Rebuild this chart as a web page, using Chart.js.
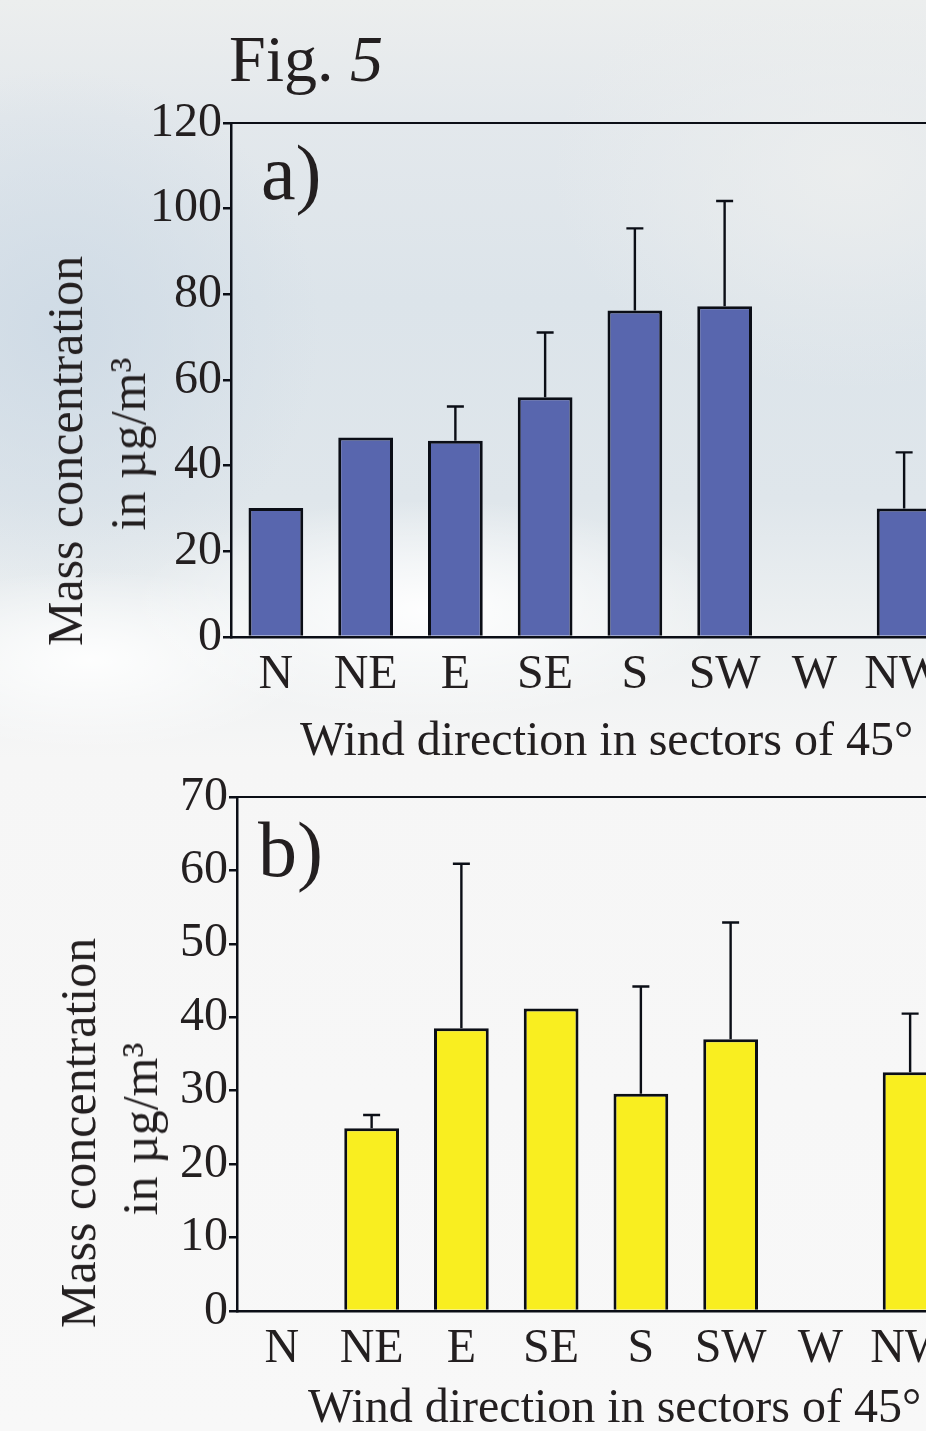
<!DOCTYPE html>
<html>
<head>
<meta charset="utf-8">
<script src="https://cdn.jsdelivr.net/npm/chart.js@4.4.1/dist/chart.umd.min.js"></script>
<style>
  html, body { margin: 0; padding: 0; }
  body {
    width: 926px; height: 1431px; overflow: hidden; position: relative;
    font-family: "Liberation Serif", "Times New Roman", serif; color: #231f20;
    background:
      radial-gradient(ellipse 300px 110px at 430px 610px, rgba(255,255,255,0.95), rgba(255,255,255,0) 100%),
      radial-gradient(ellipse 220px 90px at 90px 660px, rgba(255,255,255,0.9), rgba(255,255,255,0) 100%),
      radial-gradient(ellipse 260px 260px at 60px 330px, rgba(206,218,229,0.9), rgba(206,218,229,0) 100%),
      radial-gradient(ellipse 300px 220px at 850px 170px, rgba(236,238,238,0.9), rgba(236,238,238,0) 100%),
      linear-gradient(to bottom, #eceeee 0px, #e3e8ec 120px, #dce4ea 300px, #dfe6eb 500px, #eef1f2 640px, #f6f6f6 760px, #f8f8f8 1431px);
  }
  .txt { position: absolute; white-space: nowrap; line-height: 1; }
  .rot { position: absolute; white-space: nowrap; line-height: 1; font-size: 50px;
         transform: translate(-50%, -50%) rotate(-90deg); }
  .wrap { position: absolute; left: 0; }
</style>
</head>
<body>
<div class="txt" style="left:229px; top:26px; font-size:66px;">Fig. <i>5</i></div>

<div class="wrap" style="top:0px;"><canvas id="chartA" width="1000" height="720"></canvas></div>
<div class="wrap" style="top:700px;"><canvas id="chartB" width="1000" height="731"></canvas></div>

<div class="txt" style="left:261px; top:134px; font-size:78px;">a)</div>
<div class="txt" style="left:258px; top:811px; font-size:78px;">b)</div>

<div class="rot" style="left:65px; top:451px;">Mass concentration</div>
<div class="rot" style="left:128px; top:444px;">in µg/m³</div>
<div class="rot" style="left:78px; top:1133px;">Mass concentration</div>
<div class="rot" style="left:140px; top:1129px;">in µg/m³</div>

<div class="txt" style="left:300px; top:715px; font-size:48px;">Wind direction in sectors of 45°</div>
<div class="txt" style="left:308px; top:1382px; font-size:48px;">Wind direction in sectors of 45°</div>

<script>
// --- data ---
const sectors = ['N', 'NE', 'E', 'SE', 'S', 'SW', 'W', 'NW'];

// a) blue bars, upper error bars (only where drawn)
const massA = [30.1, 46.6, 45.8, 56.0, 76.2, 77.2, null, 30.0];
const errA  = [null, null, 8.0, 15.1, 19.2, 24.6, null, 13.1];
const ticksA = [0, 20, 40, 60, 80, 100, 120];

// b) yellow bars
const massB = [null, 24.9, 38.5, 41.2, 29.6, 37.0, null, 32.5];
const errB  = [null, 1.8, 22.4, null, 14.6, 15.9, null, 8.0];
const ticksB = [0, 10, 20, 30, 40, 50, 60, 70];

const ink = '#0b0e16';
const tickFont = { family: '"Liberation Serif", "Times New Roman", serif', size: 48 };

// upper error bars + top frame line
const errorBars = {
  id: 'errorBars',
  afterDatasetsDraw(chart, args, opts) {
    const ctx = chart.ctx;
    const y = chart.scales.y;
    const meta = chart.getDatasetMeta(0);
    const vals = chart.data.datasets[0].data;
    ctx.save();
    ctx.strokeStyle = ink;
    ctx.lineWidth = 2.4;
    opts.values.forEach((e, i) => {
      if (e == null || vals[i] == null) return;
      const bar = meta.data[i];
      const top = y.getPixelForValue(vals[i] + e);
      ctx.beginPath();
      ctx.moveTo(bar.x, bar.y);
      ctx.lineTo(bar.x, top);
      ctx.moveTo(bar.x - 8.5, top);
      ctx.lineTo(bar.x + 8.5, top);
      ctx.stroke();
    });
    // top edge of the plot box
    const a = chart.chartArea;
    ctx.lineWidth = 2;
    ctx.beginPath();
    ctx.moveTo(a.left - 1, a.top);
    ctx.lineTo(a.right + 60, a.top);
    ctx.stroke();
    ctx.restore();
  }
};

function makeChart(id, values, errs, ticks, color, axisWidth, pad) {
  return new Chart(document.getElementById(id), {
    type: 'bar',
    data: {
      labels: sectors,
      datasets: [{
        data: values,
        backgroundColor: color,
        borderColor: ink,
        borderWidth: 3,
        barPercentage: 0.61,
        categoryPercentage: 1.0
      }]
    },
    options: {
      responsive: false,
      animation: false,
      layout: { padding: pad },
      plugins: {
        legend: { display: false },
        tooltip: { enabled: false },
        errorBars: { values: errs }
      },
      scales: {
        x: {
          grid: { display: false, drawTicks: false },
          border: { display: true, color: ink, width: 2.5 },
          ticks: { color: '#231f20', font: tickFont, padding: 10, maxRotation: 0, autoSkip: false },
          afterFit: s => { s.height = 70; }
        },
        y: {
          min: ticks[0],
          max: ticks[ticks.length - 1],
          afterBuildTicks: s => { s.ticks = ticks.map(v => ({ value: v })); },
          grid: { drawOnChartArea: false, drawTicks: true, tickLength: 8, color: ink, lineWidth: 2.5 },
          border: { display: true, color: ink, width: 2.5 },
          ticks: { color: '#231f20', font: tickFont, padding: 1 },
          afterFit: s => { s.width = axisWidth; }
        }
      }
    },
    plugins: [errorBars]
  });
}

makeChart('chartA', massA, errA, ticksA, '#5866ae', 231, { top: 123, right: 51, bottom: 13, left: 0 });
makeChart('chartB', massB, errB, ticksB, '#f9ee20', 237, { top: 97, right: 45, bottom: 50, left: 0 });
</script>
</body>
</html>
